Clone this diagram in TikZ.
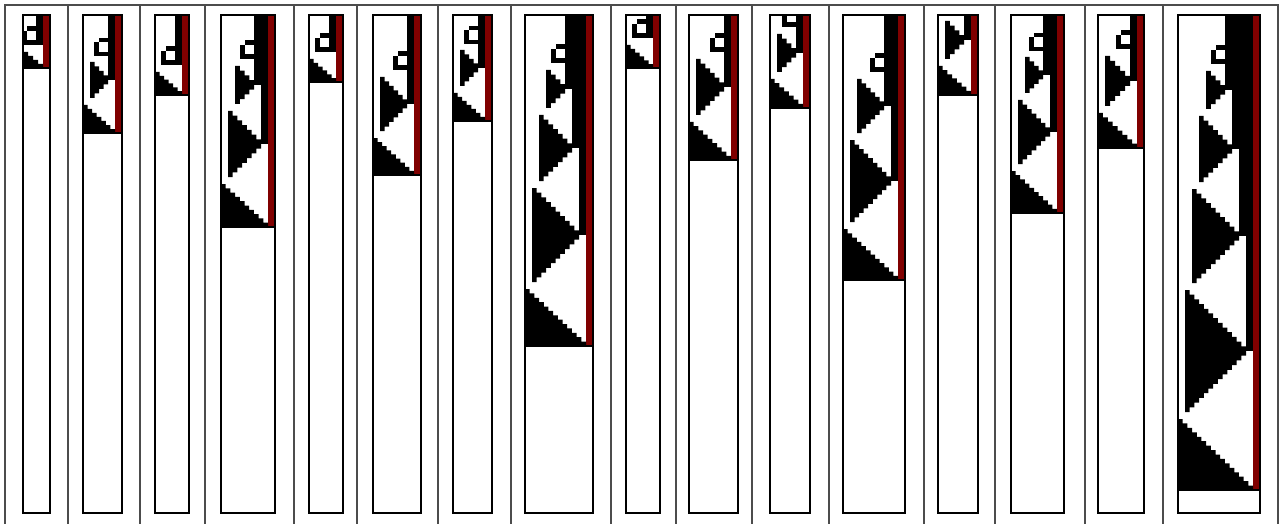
\documentclass[tikz,border=0pt]{standalone}
\definecolor{cared}{RGB}{128,0,0}
\tikzset{sepline/.style={draw=black!70,line width=1.2pt},
 boxline/.style={draw=black,line width=1.1pt}}
\newcommand\capanel[3]{%
 \pgfmathsetmacro\Lx{#1}%
 \pgfmathsetmacro\Rx{#2}%
 \pgfmathsetmacro\By{#3}%
 \pgfmathsetmacro\rl{\Rx-7}%
 \pgfmathsetmacro\Wp{\rl-\Lx}%
 \pgfmathsetmacro\F{\By-\Wp+4}%
 \pgfmathtruncatemacro\J{max(1,floor((\Wp-2)/14))}%
 \fill[cared] (\rl,15) rectangle (\Rx,\By);
 \begin{scope}
  \clip (\Lx,15) rectangle (\rl,\By);
  \pgfmathtruncatemacro\nf{round(\Wp/4.65)}%
  \pgfmathsetmacro\sh{\Wp/\nf}%
  \pgfmathsetmacro\sv{(\By-\F)/\nf}%
  \fill (\Lx,\F) \foreach \i in {1,...,\nf} { -- ++(\sh,0) -- ++(0,\sv) } -- (\Lx,\By) -- cycle;
  \foreach \j in {1,...,\J} {
   \pgfmathsetmacro\h{max(4.65,\Wp-14*\j)}
   \pgfmathsetmacro\tp{\F-2*\j*\Wp+14*\j*(\j+1)-\j*7}
   \pgfmathsetmacro\lx{\Lx+7*\j}
   \pgfmathtruncatemacro\n{max(1,round(\h/4.65))}
   \pgfmathsetmacro\s{\h/\n}
   \pgfmathsetmacro\ty{\tp+\h}
   \pgfmathsetmacro\tx{ifthenelse(\j==\J && \J>1, \rl-7*\j+7, \rl-7*\j)}
   \pgfmathsetmacro\tpn{ifthenelse(\j<\J, \F-2*(\j+1)*\Wp+14*(\j+1)*(\j+2)-7*(\j+1)+\Wp-14*(\j+1), 15)}
   \ifnum\j=\J
     \pgfmathsetmacro\eb{\tp+2*\h}
     \pgfmathsetmacro\et{\eb-18.6}
     \pgfmathsetmacro\el{\tx-14}
     \fill (\el+4.65,\et) rectangle (\tx,\et+4.65);
     \fill (\el,\et+4.65) rectangle (\el+4.65,\eb);
     \fill (\el,\eb-4.65) rectangle (\tx,\eb);
     \fill (\tx,\tpn) rectangle (\rl,\eb);
   \else
     \fill (\lx,\tp) \foreach \i in {1,...,\n} { -- ++(\s,0) -- ++(0,\s) }
        \foreach \i in {1,...,\n} { -- ++(0,\s) -- ++(-\s,0) } -- cycle;
     \fill (\tx,\tpn) rectangle (\rl,\ty);
   \fi
  }
 \end{scope}
 \draw[boxline] (\Lx,15) rectangle (\Rx,513);
 \draw[boxline] (\Lx,\By) -- (\Rx,\By);
}
\begin{document}
\begin{tikzpicture}[x=1pt,y=-1pt]
\useasboundingbox (0,0) rectangle (1281,524);
\draw[sepline] (5,524) -- (5,5) -- (1278,5) -- (1278,524);
\foreach \x in {68,140,205,294,357,438,511,611,676,752,829,924,995,1085,1163}
  \draw[sepline] (\x,5) -- (\x,524);
\capanel{23}{50}{68}
\capanel{83}{122}{133}
\capanel{155}{189}{95}
\capanel{221}{275}{227}
\capanel{309}{343}{82}
\capanel{373}{421}{175}
\capanel{453}{492}{121}
\capanel{525}{593}{346}
\capanel{626}{660}{68}
\capanel{689}{738}{160}
\capanel{770}{810}{108}
\capanel{843}{905}{280}
\capanel{938}{978}{95}
\capanel{1011}{1064}{213}
\capanel{1098}{1144}{148}
\capanel{1178}{1260}{490}
\end{tikzpicture}
\end{document}
